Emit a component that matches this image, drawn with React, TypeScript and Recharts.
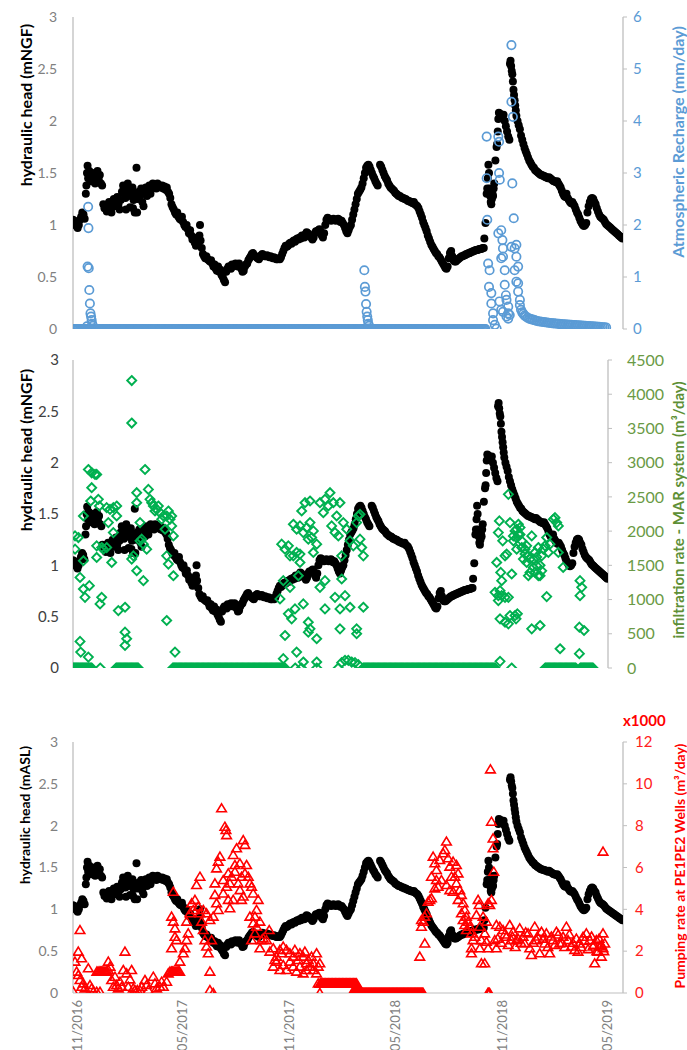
import { ScatterChart, Scatter, XAxis, YAxis } from "recharts";

// x values are days counted from 1 Nov 2016
const X_DOMAIN = [-7, 937];
const DATE_TICK_DAYS = [0, 181, 365, 546, 730, 911];
const DATE_TICK_LABELS = ["11/2016", "05/2017", "11/2017", "05/2018", "11/2018", "05/2019"];

const HEAD_TICKS = [0, 0.5, 1, 1.5, 2, 2.5, 3];
const RECHARGE_TICKS = [0, 1, 2, 3, 4, 5, 6];
const INFIL_TICKS = [0, 500, 1000, 1500, 2000, 2500, 3000, 3500, 4000, 4500];
const PUMP_TICKS = [0, 2, 4, 6, 8, 10, 12];

// hydraulic head (m) [day, value]
const HEAD = [
  [-7, 1.05], [-5, 1.04], [-3, 1.02], [-1, 0.99], [1, 0.97], [3, 1.0], [5, 1.05], [7, 1.08], [9, 1.12], [11, 1.1], [13, 1.06],
  [15, 1.3], [16, 1.38], [17, 1.5], [18, 1.57], [19, 1.45], [21, 1.52], [23, 1.48], [25, 1.42], [27, 1.5], [29, 1.45],
  [31, 1.4], [33, 1.47], [35, 1.52], [37, 1.44], [39, 1.48], [41, 1.4], [43, 1.38], [45, 1.2], [47, 1.16], [49, 1.18],
  [51, 1.13], [53, 1.2], [55, 1.22], [57, 1.16], [59, 1.12], [61, 1.2], [63, 1.25], [65, 1.18], [67, 1.22], [69, 1.27],
  [71, 1.2], [73, 1.15], [75, 1.24], [77, 1.32], [79, 1.38], [81, 1.3], [83, 1.26], [84, 1.15], [85, 1.34], [87, 1.4],
  [89, 1.28], [91, 1.17], [93, 1.3], [95, 1.36], [96, 1.16], [97, 1.24], [99, 1.12], [101, 1.3], [102, 1.55], [103, 1.12],
  [104, 1.25], [106, 1.32], [108, 1.28], [110, 1.35], [112, 1.22], [114, 1.18], [116, 1.3], [118, 1.36], [120, 1.28],
  [122, 1.33], [124, 1.38], [126, 1.3], [128, 1.35], [130, 1.4], [132, 1.36], [134, 1.38], [136, 1.35], [138, 1.4],
  [140, 1.37], [142, 1.38], [144, 1.36], [146, 1.38], [148, 1.35], [150, 1.37], [152, 1.34], [154, 1.36], [156, 1.32],
  [158, 1.3], [160, 1.26], [162, 1.2], [164, 1.17], [166, 1.15], [168, 1.12], [170, 1.1], [172, 1.12], [174, 1.08],
  [176, 1.06], [178, 1.05], [180, 1.08], [182, 1.03], [184, 1.0], [186, 0.98], [188, 1.0], [190, 0.96], [192, 0.92],
  [194, 0.95], [196, 0.9], [198, 0.86], [200, 0.88], [202, 0.83], [204, 0.8], [206, 0.85], [208, 0.82], [210, 0.9],
  [211, 1.0], [212, 0.85], [214, 0.78], [216, 0.72], [218, 0.7], [220, 0.68], [222, 0.7], [224, 0.67], [226, 0.66],
  [228, 0.65], [230, 0.66], [232, 0.63], [234, 0.6], [236, 0.62], [238, 0.58], [240, 0.56], [242, 0.6], [244, 0.55],
  [246, 0.57], [248, 0.52], [250, 0.5], [252, 0.47], [254, 0.45], [256, 0.55], [258, 0.58], [260, 0.6], [262, 0.6],
  [264, 0.58], [266, 0.62], [268, 0.6], [270, 0.61], [272, 0.63], [274, 0.62], [276, 0.6], [278, 0.63], [280, 0.6],
  [282, 0.58], [284, 0.55], [286, 0.56], [288, 0.6], [290, 0.62], [292, 0.63], [294, 0.66], [296, 0.68], [298, 0.7],
  [300, 0.72], [302, 0.73], [304, 0.71], [306, 0.7], [308, 0.69], [310, 0.68], [312, 0.67], [314, 0.69], [316, 0.71],
  [318, 0.72], [320, 0.71], [322, 0.7], [324, 0.7], [326, 0.71], [328, 0.7], [330, 0.69], [332, 0.7], [334, 0.69],
  [336, 0.68], [338, 0.69], [340, 0.68], [342, 0.67], [344, 0.67], [346, 0.68], [348, 0.67], [350, 0.69], [352, 0.72],
  [354, 0.75], [356, 0.78], [358, 0.8], [360, 0.79], [362, 0.8], [364, 0.82], [366, 0.83], [368, 0.82], [370, 0.84],
  [372, 0.85], [374, 0.84], [376, 0.86], [378, 0.87], [380, 0.86], [382, 0.88], [384, 0.87], [386, 0.9], [388, 0.89],
  [390, 0.88], [392, 0.91], [394, 0.93], [396, 0.92], [398, 0.9], [400, 0.89], [402, 0.88], [404, 0.86], [406, 0.88],
  [408, 0.92], [410, 0.94], [412, 0.93], [414, 0.95], [416, 0.96], [418, 0.94], [420, 0.9], [422, 0.88], [424, 0.92],
  [426, 1.0], [428, 1.05], [430, 1.07], [432, 1.06], [434, 1.05], [436, 1.04], [438, 1.05], [440, 1.06], [442, 1.05],
  [444, 1.04], [446, 1.05], [448, 1.06], [450, 1.05], [452, 1.03], [454, 1.04], [456, 1.02], [458, 1.0], [460, 0.97],
  [462, 0.94], [464, 0.92], [466, 0.95], [468, 0.98], [470, 1.0], [472, 1.05], [474, 1.1], [476, 1.15], [478, 1.2],
  [480, 1.25], [482, 1.3], [484, 1.32], [486, 1.34], [488, 1.36], [490, 1.4], [492, 1.45], [494, 1.5], [496, 1.55],
  [498, 1.57], [500, 1.58], [502, 1.56], [504, 1.53], [506, 1.5], [508, 1.47], [510, 1.45], [512, 1.42], [514, 1.4],
  [516, 1.38], [520, 1.58], [522, 1.56], [524, 1.53], [526, 1.5], [528, 1.47], [530, 1.45], [532, 1.43], [534, 1.4],
  [536, 1.38], [538, 1.36], [540, 1.35], [542, 1.34], [544, 1.33], [546, 1.31], [548, 1.3], [550, 1.29], [552, 1.28],
  [554, 1.28], [556, 1.27], [558, 1.26], [560, 1.26], [562, 1.25], [564, 1.25], [566, 1.24], [568, 1.23], [570, 1.23],
  [572, 1.22], [574, 1.22], [576, 1.21], [578, 1.22], [580, 1.2], [582, 1.19], [584, 1.18], [586, 1.16], [588, 1.13],
  [590, 1.1], [592, 1.07], [594, 1.03], [596, 1.0], [598, 0.97], [600, 0.94], [602, 0.9], [604, 0.87], [606, 0.84],
  [608, 0.81], [610, 0.79], [612, 0.77], [614, 0.75], [616, 0.73], [618, 0.72], [620, 0.7], [622, 0.69], [624, 0.67],
  [626, 0.65], [628, 0.63], [630, 0.61], [632, 0.59], [634, 0.58], [636, 0.6], [638, 0.68], [640, 0.73], [642, 0.75],
  [644, 0.7], [646, 0.66], [648, 0.65], [650, 0.65], [652, 0.66], [654, 0.67], [656, 0.68], [658, 0.69], [660, 0.7],
  [662, 0.7], [664, 0.71], [666, 0.71], [668, 0.72], [670, 0.72], [672, 0.73], [674, 0.73], [676, 0.74], [678, 0.74],
  [680, 0.75], [682, 0.75], [684, 0.76], [686, 0.76], [688, 0.76], [690, 0.77], [692, 0.77], [694, 0.77], [696, 0.78],
  [698, 0.78], [699, 0.87], [701, 1.02], [703, 1.3], [704, 1.35], [705, 1.45], [706, 1.58], [707, 1.5], [708, 1.35],
  [709, 1.28], [710, 1.22], [711, 1.2], [712, 1.25], [713, 1.3], [714, 1.28], [715, 1.35], [716, 1.4], [718, 1.62],
  [720, 1.75], [721, 1.78], [722, 1.9], [723, 2.02], [724, 2.08], [726, 2.07], [728, 2.05], [730, 2.03], [732, 2.06],
  [734, 2.0], [736, 1.95], [738, 1.9], [740, 1.85], [742, 1.82], [743, 2.55], [744, 2.58], [745, 2.53], [746, 2.48],
  [747, 2.45], [748, 2.38], [749, 2.3], [750, 2.25], [751, 2.2], [752, 2.15], [753, 2.1], [754, 2.05], [756, 2.0],
  [758, 1.96], [760, 1.92], [762, 1.86], [764, 1.82], [766, 1.78], [768, 1.74], [770, 1.71], [772, 1.68], [774, 1.65],
  [776, 1.62], [778, 1.6], [780, 1.58], [782, 1.56], [784, 1.55], [786, 1.53], [788, 1.52], [790, 1.51], [792, 1.5],
  [794, 1.49], [796, 1.48], [798, 1.48], [800, 1.47], [802, 1.47], [804, 1.46], [806, 1.46], [808, 1.45], [810, 1.46],
  [812, 1.45], [814, 1.44], [816, 1.43], [818, 1.42], [820, 1.42], [822, 1.41], [824, 1.42], [826, 1.4], [828, 1.38],
  [830, 1.36], [832, 1.33], [834, 1.3], [836, 1.28], [838, 1.27], [840, 1.3], [842, 1.26], [844, 1.24], [846, 1.22],
  [848, 1.21], [850, 1.22], [852, 1.2], [854, 1.18], [856, 1.15], [858, 1.12], [860, 1.1], [862, 1.07], [864, 1.04],
  [866, 1.02], [868, 1.0], [870, 0.99], [872, 1.0], [874, 1.02], [876, 1.12], [878, 1.18], [880, 1.22], [882, 1.25],
  [884, 1.26], [886, 1.25], [888, 1.22], [890, 1.2], [892, 1.16], [894, 1.13], [896, 1.1], [898, 1.08], [900, 1.07],
  [902, 1.06], [904, 1.05], [906, 1.03], [908, 1.01], [910, 1.0], [912, 0.99], [914, 0.98], [916, 0.97], [918, 0.96],
  [920, 0.95], [922, 0.94], [924, 0.93], [926, 0.92], [928, 0.91], [930, 0.9], [932, 0.89], [934, 0.88], [936, 0.87],
];

// atmospheric recharge (mm/day), non-zero days
const RECHARGE = [
  [17, 0.05], [18, 1.2], [19, 2.35], [19.5, 1.94], [20, 1.17], [21, 0.75], [22, 0.49], [23, 0.3], [24, 0.24], [25, 0.17],
  [26, 0.1], [27, 0.06],
  [493, 1.13], [494, 0.81], [495, 0.72], [496, 0.48], [497, 0.33], [498, 0.24], [499, 0.17], [500, 0.1], [501, 0.06],
  [703, 3.7], [703, 2.9], [704, 2.1], [705.5, 1.26], [707, 0.81], [708, 1.13], [711, 0.69], [711, 0.49], [714, 0.3],
  [714, 0.17], [717, 0.08], [720, 0.01],
  [723, 3.7], [723, 1.84], [724.3, 3.6], [724.3, 3.0], [725.5, 2.87], [725, 0.53], [728, 1.9], [728, 1.36], [728, 0.37],
  [730, 1.71], [731, 1.55], [731, 1.39], [731, 0.33], [734, 1.13], [734, 0.85], [736, 0.65], [737, 0.56], [737, 0.24],
  [740, 0.43], [740, 0.3], [740, 0.2], [742.6, 0.27],
  [745.5, 5.46], [745.5, 4.37], [745.5, 1.58], [747, 2.8], [748, 4.08], [749.5, 2.13], [751, 1.55], [751, 1.13],
  [754, 1.62], [754, 1.39], [754, 0.91], [757, 1.2], [757, 0.88], [757, 0.72], [760, 0.56], [760, 0.46],
  [762, 0.37], [764, 0.32], [766, 0.29], [768, 0.26], [770, 0.24], [773, 0.22], [776, 0.2], [779, 0.19], [782, 0.18],
  [785, 0.17], [788, 0.16], [791, 0.15], [794, 0.145], [797, 0.14], [800, 0.135], [803, 0.13], [806, 0.125], [809, 0.12],
  [812, 0.115], [815, 0.11], [818, 0.108], [821, 0.105], [824, 0.1], [827, 0.098], [830, 0.095], [833, 0.092],
  [836, 0.09], [839, 0.087], [842, 0.085], [845, 0.082], [848, 0.08], [851, 0.078], [854, 0.075], [857, 0.072],
  [860, 0.07], [863, 0.068], [866, 0.065], [869, 0.062], [872, 0.06], [875, 0.057], [878, 0.055], [881, 0.052],
  [884, 0.05], [887, 0.047], [890, 0.045], [893, 0.042], [896, 0.04], [899, 0.037], [902, 0.035], [905, 0.032], [908, 0.03],
];
// day ranges where recharge = 0
const RECHARGE_ZERO_RUNS = [[-7, 702]];

// infiltration rate - MAR system (m3/day), non-zero days
const INFIL = [
  [-3.4, 1736], [-3.4, 1930], [2.5, 1906], [11.3, 2221], [11.3, 1567], [5.4, 1324], [11.3, 1154], [14.2, 1033],
  [21.9, 1203], [5.4, 388], [6.6, 233], [20.1, 160], [20.1, 2900], [26, 2852], [31.9, 2828], [34.8, 2828], [26, 2634],
  [24.2, 2440], [37.7, 2464], [39.5, 2367], [34.8, 1785], [34.8, 1615], [43.6, 1760], [46.6, 1736], [52.4, 1760],
  [43.6, 1033], [40.7, 936], [52.4, 2343], [58.3, 2318], [64.2, 2343], [70.1, 2367], [55.4, 2124], [64.2, 1979],
  [70.1, 2221], [61.3, 1542], [73, 839], [84.8, 888], [84.8, 524], [87.7, 427], [84.8, 330], [96.6, 4200], [96.6, 3579],
  [96.6, 1591], [99.5, 1639], [105.4, 2561], [105.4, 2415], [111.3, 2124], [114.2, 1882], [117.2, 1809], [120.1, 2900],
  [123, 1736], [105.4, 1421], [117.2, 1276], [111.3, 1858], [126, 2609], [128.9, 2464], [134.8, 2367], [140.7, 2318],
  [146.6, 2270], [152.4, 2221], [158.3, 2221], [164.2, 2173], [167.1, 2076], [170.1, 1930], [155.4, 2027], [158.3, 1639],
  [161.3, 1518], [170.1, 1348], [158.3, 694], [173, 233], [131.9, 2415], [137.7, 2294], [143.6, 2367], [149.5, 2173],
  [161.3, 2294], [167.1, 2221],
  [358.2, 1009], [364.1, 1276], [375.9, 1179], [373, 791], [378.8, 718], [384.7, 863], [367.1, 475], [364.1, 136],
  [387.6, 233], [399.4, 936], [361.2, 1809], [367.1, 1736], [373, 1785], [375.9, 1639], [381.8, 1639], [393.5, 1542],
  [393.5, 1664], [390.6, 1348], [387.6, 1688], [381.8, 2100], [387.6, 2027], [393.5, 2076], [399.4, 1979], [405.3, 2052],
  [411.2, 2124], [417.1, 2003], [408.2, 1882], [414.1, 1906], [396.5, 2294], [402.4, 2415], [411.2, 2440], [417.1, 1688],
  [423, 1809], [408.2, 669], [411.2, 572], [423, 427], [408.2, 524], [428.8, 2415], [434.7, 2270], [437.6, 2464],
  [443.5, 2367], [446.5, 2561], [452.4, 2415], [458.2, 2221], [464.1, 2415], [428.8, 1179], [437.6, 1276], [437.6, 863],
  [455.3, 1033], [464.1, 863], [464.1, 572], [473, 1057], [481.8, 888], [493.5, 572], [493.5, 500], [449.4, 2076],
  [455.3, 1979], [461.2, 1930], [470, 2124], [475.9, 2027], [467.1, 1639], [467.1, 1300], [481.8, 1858], [487.6, 1785],
  [499.4, 1882], [505.3, 1639], [496.5, 2221], [493.5, 2124], [499.4, 2245], [502.4, 1760], [505.3, 888],
  [467, 78], [473, 112], [478.8, 112], [484.7, 87], [490.6, 78], [496.5, 49], [399.4, 87], [423, 87],
  [746.5, 97], [761.2, 2537], [745.3, 2149], [764.1, 2124], [743.5, 1979], [751.2, 1858], [758.2, 1664], [755.3, 1639],
  [740.6, 1542], [747.7, 1397], [749.4, 1276], [767.1, 1373], [737.7, 1106], [743.5, 1057], [749.4, 1057], [746.5, 1130],
  [755.3, 1033], [761.2, 1033], [743.5, 985], [746.5, 718], [755.3, 669], [761.2, 645], [764.1, 766], [773, 766],
  [777.1, 791], [774.7, 718], [770, 1930], [775.9, 2027], [781.8, 2052], [778.8, 1955], [784.7, 1858], [775.9, 1736],
  [787.7, 1591], [790.6, 1736], [793.5, 1542], [796.5, 1639], [799.4, 1397], [802.4, 1930], [805.3, 1591], [808.2, 1688],
  [811.2, 1494], [814.1, 1348], [817.1, 1348], [796.5, 1348], [820, 1639], [822.9, 1736], [825.9, 1785], [828.8, 1906],
  [831.8, 1688], [834.7, 1809], [840.6, 2173], [843.5, 2197], [846.5, 2124], [849.4, 2076], [849.4, 1688], [857.9, 1470],
  [828.8, 1043], [802.4, 572], [817.1, 621], [852.4, 281], [887.6, 1276], [890.6, 1179], [887.6, 1057], [886.5, 597],
  [894.7, 548], [886.5, 209], [790.6, 1664], [793.5, 1785], [799.4, 1591], [805.3, 1470], [808.2, 1400], [811.2, 1620],
  [814.1, 1760], [817.1, 1500], [820, 1420], [770.1, 1858], [773, 2003], [775.9, 1900], [778.8, 2100], [781.8, 1950],
  [784.7, 1760],
];
// day ranges where infiltration = 0
const INFIL_ZERO_RUNS = [
  [-7, 26], [41, 41], [69, 108], [169, 364], [367, 367], [385, 385], [396, 396], [423, 423], [461, 461],
  [505, 738], [767, 767], [826, 880], [888, 911],
];

// pumping rate at PE1PE2 wells (x1000 m3/day)
const PUMP = [
  [-6.4, 0.06], [-3.6, 1.5], [2.1, 1.98], [5, 3.01], [7.9, 1.66], [-0.7, 1.02], [2.1, 0.86], [5, 0.62], [7.9, 0.3],
  [10.7, 0.46], [13.6, 0.22], [19.3, 1.18], [22.2, 0.38], [25, 0.22], [27.9, 0.06], [33.6, 0.06], [39.3, 0.06],
  [34, 1.02], [36, 1.02], [38, 1.02], [40, 1.02], [42, 1.02], [44, 1.02], [46, 1.02], [48, 1.02], [50, 1.02], [52, 1.02],
  [53.6, 1.5], [56.5, 1.26], [53.6, 1.1], [59.3, 0.62], [62.2, 0.3], [65, 0.78], [67.9, 0.38], [70.8, 0.22], [73.6, 0.54],
  [76.5, 0.3], [79.3, 1.1], [82.2, 1.98], [85.1, 0.94], [87.9, 0.3], [90.8, 0.65], [93.6, 1.1], [96.5, 0.22],
  [99.4, 0.14], [103.4, 0.14], [107.9, 0.14], [110.8, 0.3], [116.5, 0.62], [119.4, 0.38], [122.2, 0.14], [130.8, 0.78],
  [133.7, 0.46], [136.5, 0.22], [142.2, 0.3], [145.1, 0.54], [148, 0.3], [153.7, 0.54], [156.5, 0.94], [159.4, 1.02],
  [162, 1.02], [164, 1.02], [166, 1.02], [168, 1.02], [170, 1.02], [172, 1.02], [174, 1.02], [176, 1.02],
  [165.1, 4.84], [162.2, 3.65], [165.1, 3.41], [168, 3.09], [168, 2.69], [162.2, 2.14], [170.8, 2.53], [176.5, 1.5],
  [182.3, 1.9], [185.1, 2.14], [188, 2.53], [190.8, 2.85], [188, 3.41], [193.7, 3.81], [196.6, 4.29], [199.4, 3.97],
  [202.3, 4.45], [205.1, 5.16], [210.9, 5.56], [208, 4.13], [210.9, 3.81], [213.7, 3.41], [216.6, 3.01], [219.4, 2.53],
  [222.3, 2.22], [225.1, 1.9], [228, 1.02], [228, 0.14], [233.7, 0], [216.6, 3.97], [222.3, 3.81], [228, 3.49],
  [230.9, 2.53], [236.6, 5.24], [239.4, 5.96], [242.3, 6.28], [245.2, 6.52], [248, 8.83], [250.9, 5.4], [253.7, 7.95],
  [255.5, 7.79], [256.6, 7.55], [259.5, 5.72], [262.3, 5.24], [236.6, 4.69], [239.4, 4.29], [242.3, 3.97], [233.7, 3.65],
  [250.9, 4.76], [256.6, 5.08], [259.5, 4.45], [262.3, 4.05], [268, 6.6], [270.9, 6.12], [273.8, 6.92], [279.5, 6.2],
  [285.2, 7.31], [288.1, 7.08], [282.3, 5.56], [288.1, 5.72], [290.9, 6.12], [293.8, 5.56], [296.6, 5.24], [299.5, 5.08],
  [302.3, 4.76], [279.5, 4.92], [285.2, 4.61], [282.3, 4.45], [268, 4.45], [276.6, 5.24], [265.2, 5.56], [270.9, 5.8],
  [296.6, 3.65], [305.2, 3.65], [308, 3.97], [310.9, 4.45], [302.3, 3.33], [308, 3.17], [313.8, 3.41], [299.5, 2.53],
  [305.2, 2.85], [313.8, 2.14], [316.6, 2.53], [319.5, 2.61], [325.2, 2.53], [329.8, 3.01], [330.9, 1.98], [336.7, 2.14],
  [339.5, 1.58], [342.4, 1.74], [348.1, 2.06], [351, 1.9], [353.8, 2.22], [359.5, 2.06], [365.2, 1.9], [371, 1.74],
  [373.8, 2.06], [379.5, 1.58], [382.4, 1.9], [388.1, 1.74], [391, 1.98], [393.8, 1.42], [396.7, 1.58], [402.4, 1.74],
  [405.3, 1.42], [411, 1.9], [413.9, 1.26], [416.7, 1.42], [336.7, 1.26], [342.4, 1.5], [348.1, 1.1], [353.8, 1.34],
  [359.5, 1.1], [365.2, 1.5], [371, 1.26], [376.7, 1.02], [382.4, 1.26], [388.1, 0.94], [393.8, 1.1], [399.6, 1.26],
  [405.3, 1.1], [411, 0.94], [413.9, 0.46], [416.7, 0],
  [588.2, 1.74], [596.8, 2.37], [591.1, 3.17], [591.1, 3.49], [594, 3.41], [596.8, 3.65], [599.7, 3.81], [602.5, 4.37],
  [605.4, 4.45], [608.2, 4.53], [611.1, 6.52], [614, 6.2], [616.8, 5.88], [622.5, 6.36], [628.3, 6.68], [634, 7.24],
  [631.1, 6.84], [636.8, 6.44], [639.7, 6.04], [645.4, 6.28], [651.1, 6.12], [654, 5.72], [648.3, 5.56], [642.6, 5.56],
  [616.8, 5.4], [619.7, 5.08], [608.2, 5.56], [614, 5.0], [625.4, 5.4], [634, 5.16], [639.7, 4.92], [645.4, 4.84],
  [651.1, 5.24], [656.8, 4.92], [659.7, 4.69], [654, 4.45], [662.6, 4.29], [665.4, 3.97], [659.7, 3.81], [668.3, 3.65],
  [671.1, 3.41], [662.6, 3.49], [665.4, 3.25], [674, 3.17], [676.9, 2.85], [668.3, 3.01], [679.7, 2.53], [676.9, 2.14],
  [676.9, 1.9], [682.6, 2.69], [685.4, 3.73], [688.3, 4.45], [690, 4.21], [691.2, 3.17], [694, 2.53], [691.2, 2.14],
  [694, 1.42], [699.7, 1.42], [696.9, 3.65], [699.7, 2.85], [702.6, 3.41], [705.5, 4.29], [708.3, 4.21], [711.2, 4.45],
  [702.6, 2.45], [705.5, 2.14], [709.5, 10.69], [711.2, 8.19], [714, 7.39], [714, 6.92], [715.2, 5.8],
  [719.7, 3.25], [725.5, 3.17], [716.9, 2.53], [719.7, 2.14], [731.2, 3.01], [736.9, 2.69], [742.6, 3.25], [745.5, 2.53],
  [748.3, 2.93], [754.1, 2.53], [759.8, 3.09], [765.5, 2.69], [768.3, 2.37], [774.1, 2.85], [776.9, 2.14], [779.8, 1.82],
  [785.5, 3.17], [788.4, 2.53], [794.1, 1.9], [797, 2.93], [802.7, 2.37], [805.5, 2.85], [811.2, 1.9], [817, 2.53],
  [822.7, 2.93], [828.4, 2.37], [834.1, 2.69], [839.8, 3.17], [842.7, 2.53], [848.4, 2.22], [854.1, 2.06], [859.8, 1.98],
  [862.7, 2.37], [868.4, 2.69], [874.1, 2.85], [879.9, 2.53], [885.6, 2.22], [888.4, 1.42], [891.3, 2.53], [894.1, 1.98],
  [897, 2.22], [899.9, 1.74], [902.7, 2.85], [902.7, 6.76], [905.6, 2.37], [902.7, 2.14],
  [722, 2.6], [728, 2.4], [734, 2.8], [740, 2.3], [747, 2.7], [752, 2.2], [757, 2.6], [762, 2.4], [770, 2.9], [783, 2.4],
  [790, 2.7], [800, 2.6], [808, 2.2], [814, 2.7], [820, 2.3], [826, 2.8], [832, 2.4], [837, 2.2], [845, 2.8], [851, 2.4],
  [857, 2.6], [865, 2.2], [871, 2.5], [877, 2.1], [883, 2.7], [887, 2.3], [892, 2.0], [896, 2.6], [900, 2.3], [904, 2.0],
];
// constant-rate periods of pumping (x1000 m3/day)
const PUMP_LOW_RUNS = [[417, 480]];
const PUMP_LOW_VALUE = 0.45;
const PUMP_ZERO_RUNS = [[472, 594], [705, 708]];

const toPts = (arr) => arr.map(([x, y]) => ({ x, y }));
const expandRuns = (runs, value, step) => {
  const out = [];
  for (const [a, b] of runs) {
    for (let d = a; d <= b; d += step) out.push({ x: d, y: value });
  }
  return out;
};

const headPts = toPts(HEAD);
const rechargePts = [...expandRuns(RECHARGE_ZERO_RUNS, 0, 2), ...toPts(RECHARGE)];
const infilPts = [...expandRuns(INFIL_ZERO_RUNS, 0, 1.5), ...toPts(INFIL)];
const pumpPts = [
  ...expandRuns(PUMP_LOW_RUNS, PUMP_LOW_VALUE, 1),
  ...expandRuns(PUMP_ZERO_RUNS, 0, 1),
  ...toPts(PUMP),
];

const GRID = "#BFBFBF";

const blackDot = (p) => <circle cx={p.cx} cy={p.cy} r={4} fill="#000" />;
const blueRing = (p) => <circle cx={p.cx} cy={p.cy} r={4.2} fill="none" stroke="#5B9BD5" strokeWidth={1.7} />;
const greenDiamond = (p) => (
  <path
    d={`M${p.cx},${p.cy - 4.5}L${p.cx + 4.5},${p.cy}L${p.cx},${p.cy + 4.5}L${p.cx - 4.5},${p.cy}Z`}
    fill="none"
    stroke="#00B050"
    strokeWidth={1.9}
  />
);
const redTriangle = (p) => (
  <path
    d={`M${p.cx},${p.cy - 4.5}L${p.cx + 4.8},${p.cy + 3.5}L${p.cx - 4.8},${p.cy + 3.5}Z`}
    fill="none"
    stroke="#FF0000"
    strokeWidth={1.6}
  />
);

const vTitle = (text, x, y, color, size) => ({
  content: () => (
    <text
      x={x}
      y={y}
      transform={`rotate(-90 ${x} ${y})`}
      textAnchor="middle"
      dominantBaseline="central"
      fill={color}
      fontSize={size}
      fontWeight="bold"
    >
      {text}
    </text>
  ),
});

const dateTick = (p) => {
  const i = DATE_TICK_DAYS.indexOf(p.payload.value);
  const y = 315;
  return (
    <text
      x={p.x}
      y={y}
      dy="0.35em"
      transform={`rotate(-90 ${p.x} ${y})`}
      textAnchor="end"
      fill="#7f7f7f"
      fontSize={13}
    >
      {DATE_TICK_LABELS[i]}
    </text>
  );
};

export default function App() {
  return (
    <div
      style={{
        position: "absolute",
        left: 0,
        top: 0,
        width: 687,
        height: 1050,
        background: "#fff",
        fontFamily: "Lato, 'Open Sans', sans-serif",
        overflow: "hidden",
      }}
    >
      {/* panel 1: head + atmospheric recharge */}
      <div style={{ position: "absolute", left: 0, top: 0 }}>
        <ScatterChart width={687} height={345} margin={{ top: 17, right: 0, bottom: 16, left: 0 }}>
          <XAxis type="number" dataKey="x" domain={X_DOMAIN} ticks={DATE_TICK_DAYS} tick={false} tickLine={false}
            height={0} axisLine={{ stroke: GRID }} allowDataOverflow />
          <YAxis yAxisId="h" type="number" dataKey="y" domain={[0, 3]} ticks={HEAD_TICKS} interval={0} width={73}
            axisLine={{ stroke: GRID, strokeWidth: 1.3 }} tickLine={false} tickSize={0} tickMargin={16}
            tick={{ fill: "#808080", fontSize: 14 }} allowDataOverflow
            label={vTitle("hydraulic head (mNGF)", 25, 105, "#000", 16)} />
          <YAxis yAxisId="r" orientation="right" type="number" dataKey="y" domain={[0, 6]} ticks={RECHARGE_TICKS}
            interval={0} width={64} axisLine={{ stroke: GRID, strokeWidth: 1.3 }} tickLine={{ stroke: GRID }}
            tickSize={4} tickMargin={6} tick={{ fill: "#5B9BD5", fontSize: 15 }} allowDataOverflow
            label={vTitle("Atmospheric Recharge (mm/day)", 677, 142, "#5B9BD5", 16)} />
          <Scatter yAxisId="h" data={headPts} shape={blackDot} isAnimationActive={false} />
          <Scatter yAxisId="r" data={rechargePts} shape={blueRing} isAnimationActive={false} />
        </ScatterChart>
      </div>

      {/* panel 2: head + MAR infiltration */}
      <div style={{ position: "absolute", left: 0, top: 345 }}>
        <ScatterChart width={687} height={340} margin={{ top: 15, right: 0, bottom: 17, left: 0 }}>
          <XAxis type="number" dataKey="x" domain={X_DOMAIN} ticks={DATE_TICK_DAYS} tick={false} tickLine={false}
            height={0} axisLine={{ stroke: GRID }} allowDataOverflow />
          <YAxis yAxisId="h" type="number" dataKey="y" domain={[0, 3]} ticks={HEAD_TICKS} interval={0} width={73}
            axisLine={{ stroke: GRID, strokeWidth: 1.3 }} tickLine={false} tickSize={0} tickMargin={14}
            tick={{ fill: "#404040", fontSize: 15 }} allowDataOverflow
            label={vTitle("hydraulic head (mNGF)", 25, 105, "#000", 16)} />
          <YAxis yAxisId="r" orientation="right" type="number" dataKey="y" domain={[0, 4500]} ticks={INFIL_TICKS}
            interval={0} width={79} axisLine={{ stroke: GRID, strokeWidth: 1.3 }} tickLine={{ stroke: GRID }}
            tickSize={4} tickMargin={15} tick={{ fill: "#6A9A45", fontSize: 16 }} allowDataOverflow
            label={vTitle("infiltration rate - MAR system (m³/day)", 678, 165, "#5E8F36", 15)} />
          <Scatter yAxisId="h" data={headPts} shape={blackDot} isAnimationActive={false} />
          <Scatter yAxisId="r" data={infilPts} shape={greenDiamond} isAnimationActive={false} />
        </ScatterChart>
      </div>

      {/* panel 3: head + pumping */}
      <div style={{ position: "absolute", left: 0, top: 685 }}>
        <ScatterChart width={687} height={365} margin={{ top: 57, right: 0, bottom: 0, left: 0 }}>
          <XAxis type="number" dataKey="x" domain={X_DOMAIN} ticks={DATE_TICK_DAYS} interval={0} tick={dateTick}
            tickLine={false} height={57} axisLine={{ stroke: GRID }} allowDataOverflow />
          <YAxis yAxisId="h" type="number" dataKey="y" domain={[0, 3]} ticks={HEAD_TICKS} interval={0} width={73}
            axisLine={{ stroke: GRID, strokeWidth: 1.3 }} tickLine={false} tickSize={0} tickMargin={15}
            tick={{ fill: "#808080", fontSize: 14 }} allowDataOverflow
            label={vTitle("hydraulic head (mASL)", 24, 130, "#000", 14)} />
          <YAxis yAxisId="r" orientation="right" type="number" dataKey="y" domain={[0, 12]} ticks={PUMP_TICKS}
            interval={0} width={64} axisLine={{ stroke: GRID, strokeWidth: 1.3 }} tickLine={{ stroke: GRID }}
            tickSize={4} tickMargin={8} tick={{ fill: "#FF2020", fontSize: 15 }} allowDataOverflow
            label={{
              content: () => (
                <g>
                  <text x={623} y={35} dominantBaseline="central" fill="#FF0000" fontSize={15} fontWeight="bold">
                    x1000
                  </text>
                  <text x={679} y={181} transform="rotate(-90 679 181)" textAnchor="middle"
                    dominantBaseline="central" fill="#FF0000" fontSize={14} fontWeight="bold">
                    Pumping rate at PE1PE2 Wells (m³/day)
                  </text>
                </g>
              ),
            }} />
          <Scatter yAxisId="h" data={headPts} shape={blackDot} isAnimationActive={false} />
          <Scatter yAxisId="r" data={pumpPts} shape={redTriangle} isAnimationActive={false} />
        </ScatterChart>
      </div>
    </div>
  );
}
